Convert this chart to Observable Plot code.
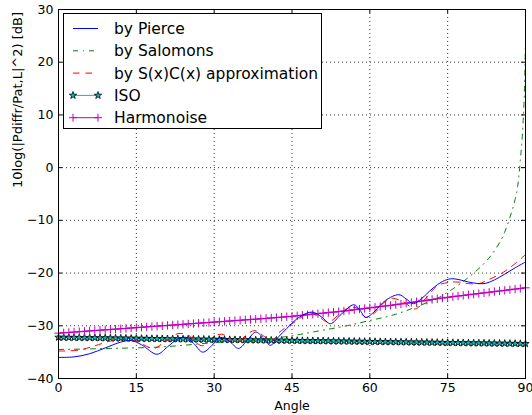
<!DOCTYPE html>
<html><head><meta charset="utf-8">
<script src="https://cdn.jsdelivr.net/npm/d3@7"></script>
<script src="https://cdn.jsdelivr.net/npm/@observablehq/plot@0.6"></script>
<style>
body{margin:0;background:#fff;font-family:"DejaVu Sans",sans-serif;}
#wrap{position:relative;width:532px;height:415px;overflow:hidden;}
</style></head><body><div id="wrap"></div><script>
// ---- data ----
const xTicks = [0, 15, 30, 45, 60, 75, 90];
const yTicks = [-40, -30, -20, -10, 0, 10, 20, 30];
const seriesNames = ["by Pierce", "by Salomons", "by S(x)C(x) approximation", "ISO", "Harmonoise"];
const xLabel = "Angle";
const yLabel = "10log(|Pdiffr/Pat,L|^2) [dB]";

const pierceAngle = [0,3,6,9,12,14,16,19,21,23,24.5,26,27.8,29.5,31.2,33,34.7,36.5,38,39.5,40.8,42.5,44,46.5,48.9,50.8,52.4,54.5,56.9,58,59.2,61,63,65.6,67,68.4,70,72,74,75.5,77,79,82,84,86,88,90];
const pierceVal = [-36.0,-35.9,-35.3,-34.2,-33.1,-32.8,-33.6,-35.4,-34.0,-32.5,-32.2,-33.3,-35.0,-33.8,-32.2,-33.0,-34.3,-32.6,-31.2,-32.3,-33.7,-32.0,-30.5,-28.3,-27.4,-28.4,-29.6,-27.8,-26.0,-26.9,-28.4,-27.2,-25.2,-24.1,-24.9,-25.8,-24.8,-23.0,-21.6,-21.1,-21.2,-21.7,-22.0,-21.3,-20.2,-19.0,-17.9];

const salAngle = [0,10,20,30,40,45,50,55,60,65,70,73,76,78,80,82,84,86,87,88,88.5,89,89.5,89.8,90];
const salVal = [-34.5,-34.3,-34.0,-33.2,-32.5,-31.9,-31.0,-30.1,-29.0,-27.8,-26.0,-24.8,-23.0,-21.6,-20.0,-18.2,-15.8,-12.2,-9.4,-6.0,-3.5,1.4,8.0,15.0,24.0];

const sxcAngle = [0,4,7,10,13,15,18.3,20.5,23,25,27.7,30,31.5,33,34.5,36,37.8,39.5,41,42.5,44,46,48.2,50,52,54,55.5,57.5,59.2,61,62.5,64.3,66.5,68.8,71,73,75,77,79,81,83,85.8,88,90];
const sxcVal = [-34.8,-34.6,-33.8,-32.9,-32.6,-32.9,-34.3,-33.0,-31.5,-31.8,-33.8,-32.0,-31.6,-32.4,-33.1,-31.9,-30.9,-31.9,-33.0,-31.3,-30.2,-29.0,-27.5,-28.2,-29.3,-27.9,-26.8,-26.6,-28.4,-27.5,-25.8,-24.8,-25.5,-26.8,-24.5,-22.4,-21.8,-21.7,-22.0,-22.0,-21.2,-19.8,-18.2,-16.5];

const stdAngle = [0,1,2,3,4,5,6,7,8,9,10,11,12,13,14,15,16,17,18,19,20,21,22,23,24,25,26,27,28,29,30,31,32,33,34,35,36,37,38,39,40,41,42,43,44,45,46,47,48,49,50,51,52,53,54,55,56,57,58,59,60,61,62,63,64,65,66,67,68,69,70,71,72,73,74,75,76,77,78,79,80,81,82,83,84,85,86,87,88,89,90];
const isoVal = [-32.20,-32.21,-32.23,-32.24,-32.25,-32.27,-32.28,-32.29,-32.31,-32.32,-32.33,
 -32.35,-32.36,-32.37,-32.39,-32.40,-32.41,-32.43,-32.44,-32.45,-32.47,
 -32.48,-32.49,-32.51,-32.52,-32.53,-32.55,-32.56,-32.57,-32.59,-32.60,
 -32.61,-32.63,-32.64,-32.65,-32.67,-32.68,-32.69,-32.71,-32.72,-32.73,
 -32.75,-32.76,-32.77,-32.79,-32.80,-32.81,-32.83,-32.84,-32.85,-32.87,
 -32.88,-32.89,-32.91,-32.92,-32.93,-32.95,-32.96,-32.97,-32.99,-33.00,
 -33.01,-33.03,-33.04,-33.05,-33.07,-33.08,-33.09,-33.11,-33.12,-33.13,
 -33.15,-33.16,-33.17,-33.19,-33.20,-33.21,-33.23,-33.24,-33.25,-33.27,
 -33.28,-33.29,-33.31,-33.32,-33.33,-33.35,-33.36,-33.37,-33.39,-33.40];
const harmVal = [-31.40,-31.33,-31.26,-31.19,-31.12,-31.05,-30.98,-30.91,-30.84,-30.77,-30.70,
 -30.63,-30.56,-30.49,-30.42,-30.35,-30.28,-30.21,-30.14,-30.07,-30.00,
 -29.93,-29.86,-29.79,-29.72,-29.65,-29.58,-29.51,-29.44,-29.37,-29.30,
 -29.23,-29.16,-29.09,-29.02,-28.95,-28.88,-28.81,-28.74,-28.67,-28.60,
 -28.52,-28.44,-28.36,-28.28,-28.20,-28.10,-28.00,-27.90,-27.80,-27.70,
 -27.60,-27.50,-27.40,-27.30,-27.20,-27.08,-26.96,-26.84,-26.72,-26.60,
 -26.48,-26.36,-26.24,-26.12,-26.00,-25.86,-25.72,-25.58,-25.44,-25.30,
 -25.16,-25.02,-24.88,-24.74,-24.60,-24.48,-24.36,-24.24,-24.12,-24.00,
 -23.88,-23.76,-23.64,-23.52,-23.40,-23.28,-23.16,-23.04,-22.92,-22.80];

// ---- build tables ----
const zip = (a, v) => a.map((x, i) => ({a: x, v: v[i]}));
const pierce = zip(pierceAngle, pierceVal);
const salomons = zip(salAngle, salVal);
const sxc = zip(sxcAngle, sxcVal);
const iso = zip(stdAngle, isoVal);
const harm = zip(stdAngle, harmVal);

const W = 532, H = 415;
const mL = 58, mR = 7, mT = 9, mB = 37;
const pw = W - mL - mR, ph = H - mT - mB;
const C = {pierce: "#0000ff", sal: "#008000", sxc: "#ff0000", iso: "#00bfbf", harm: "#bf00bf"};
const dashSal = "5,5,1,5", dashSxc = "6.5,6";
const gridStyle = {stroke: "black", strokeOpacity: 1, strokeWidth: 0.8, strokeDasharray: "1,3"};
const starR = 2.3;

const chart = Plot.plot({
  width: W, height: H,
  marginLeft: mL, marginRight: mR, marginTop: mT, marginBottom: mB,
  style: {fontFamily: "DejaVu Sans", fontSize: "12.5px", background: "white", color: "black", overflow: "visible"},
  x: {domain: [0, 90], ticks: xTicks, tickSize: 0, tickPadding: 5, label: null, tickFormat: d => String(d)},
  y: {domain: [-40, 30], ticks: yTicks, tickSize: 0, tickPadding: 5, label: null},
  marks: [
    Plot.ruleX(xTicks, {x: d => d, ...gridStyle}),
    Plot.ruleY(yTicks, {y: d => d, ...gridStyle}),
    Plot.line(iso, {x: "a", y: "v", stroke: C.iso, strokeWidth: 1}),
    Plot.dot(iso, {x: "a", y: "v", symbol: "star", r: starR, fill: C.iso, stroke: "black", strokeWidth: 0.8}),
    Plot.line(harm, {x: "a", y: "v", stroke: C.harm, strokeWidth: 1}),
    Plot.dot(harm, {x: "a", y: "v", symbol: "plus", r: 2.8, stroke: C.harm, strokeWidth: 1}),
    Plot.line(salomons, {x: "a", y: "v", stroke: C.sal, strokeWidth: 1, strokeDasharray: dashSal, curve: "monotone-x"}),
    Plot.line(sxc, {x: "a", y: "v", stroke: C.sxc, strokeWidth: 1, strokeDasharray: dashSxc, curve: "catmull-rom"}),
    Plot.line(pierce, {x: "a", y: "v", stroke: C.pierce, strokeWidth: 1, curve: "catmull-rom"}),
    Plot.tickY(yTicks, {y: d => d, insetRight: pw - 4, stroke: "black"}),
    Plot.tickY(yTicks, {y: d => d, insetLeft: pw - 4, stroke: "black"}),
    Plot.tickX(xTicks, {x: d => d, insetTop: ph - 4, stroke: "black"}),
    Plot.tickX(xTicks, {x: d => d, insetBottom: ph - 4, stroke: "black"}),
    Plot.frame({stroke: "black", strokeWidth: 1}),
    Plot.text([xLabel], {text: d => d, frameAnchor: "bottom", dy: 31, fontSize: 12.5, fill: "black"}),
    Plot.text([yLabel], {text: d => d, frameAnchor: "left", rotate: -90, dx: -41, dy: -6, fontSize: 13, fill: "black"})
  ]
});
const wrap = document.getElementById("wrap");
wrap.appendChild(chart);

// ---- legend ----
const leg = d3.select(wrap).append("svg")
  .attr("width", W).attr("height", H)
  .style("position", "absolute").style("left", "0px").style("top", "0px")
  .style("font-family", "DejaVu Sans");
leg.append("rect").attr("x", 63.5).attr("y", 13.5).attr("width", 258).attr("height", 115)
  .attr("fill", "white").attr("stroke", "black").attr("stroke-width", 1);
const specs = [
  {color: C.pierce, dash: null, marker: null},
  {color: C.sal, dash: dashSal, marker: null},
  {color: C.sxc, dash: dashSxc, marker: null},
  {color: C.iso, dash: null, marker: "star"},
  {color: C.harm, dash: null, marker: "plus"}
];
seriesNames.forEach((name, i) => {
  const y = 28.5 + i * 22.3;
  const s = specs[i];
  const g = leg.append("g");
  g.append("line").attr("x1", 73).attr("x2", 98).attr("y1", y).attr("y2", y)
    .attr("stroke", s.color).attr("stroke-width", 1).attr("stroke-dasharray", s.dash);
  if (s.marker === "star") {
    const p = d3.symbol(d3.symbolStar, Math.PI * starR * starR)();
    [73, 98].forEach(x => g.append("path").attr("d", p).attr("transform", `translate(${x},${y})`)
      .attr("fill", s.color).attr("stroke", "black").attr("stroke-width", 0.8));
  }
  if (s.marker === "plus") {
    [73, 98].forEach(x => g.append("path").attr("d", `M${x-4},${y}H${x+4}M${x},${y-4}V${y+4}`)
      .attr("stroke", s.color).attr("stroke-width", 1).attr("fill", "none"));
  }
  g.append("text").attr("x", 114).attr("y", y).attr("dy", "0.35em")
    .attr("font-size", 15.5).attr("fill", "black").text(name);
});
</script></body></html>
